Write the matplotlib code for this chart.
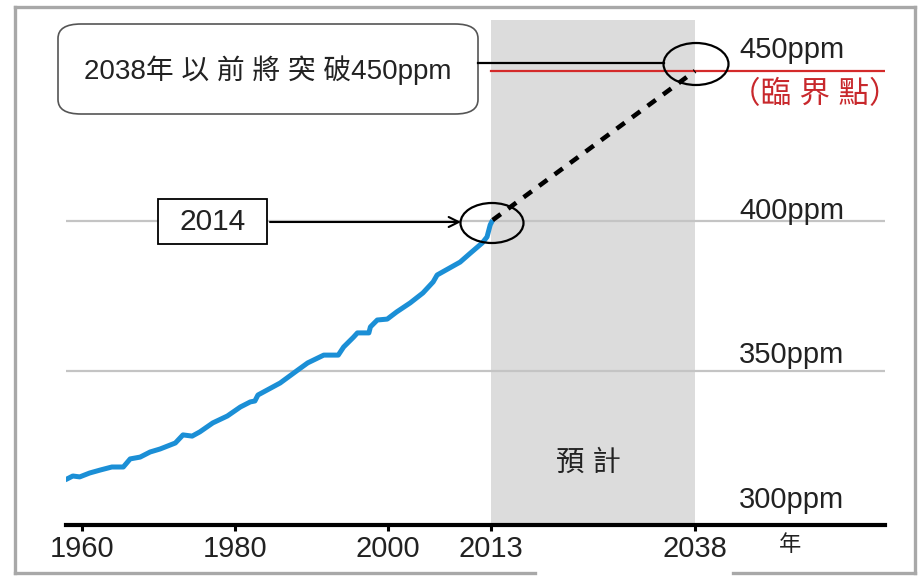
import matplotlib
matplotlib.use("Agg")
import matplotlib.pyplot as plt
import numpy as np
from matplotlib.patches import Ellipse, Rectangle, FancyBboxPatch
from matplotlib.lines import Line2D

plt.rcParams['font.family'] = ['Liberation Sans', 'Noto Sans CJK TC', 'DejaVu Sans']

# 大氣二氧化碳濃度 (ppm)
co2_years = [1957.8, 1958.8, 1959.7, 1961.0, 1962.4, 1963.9, 1965.4, 1966.3, 1967.6,
             1968.9, 1970.2, 1972.2, 1973.2, 1974.4, 1975.4, 1977.1, 1979.0, 1980.7,
             1982.0, 1982.6, 1983.0, 1985.9, 1988.2, 1989.5, 1991.6, 1993.5, 1994.2,
             1995.5, 1996.0, 1997.5, 1997.7, 1998.6, 1999.9, 2001.1, 2002.8, 2004.4,
             2005.7, 2006.2, 2009.1, 2010.4, 2011.9, 2012.5, 2012.9, 2013.2]
co2_ppm = [313.7, 315.0, 314.7, 316.0, 317.0, 318.0, 318.0, 320.7, 321.3,
           323.0, 324.0, 326.0, 328.7, 328.3, 329.7, 332.7, 335.0, 338.0,
           339.7, 340.0, 342.0, 346.0, 350.3, 352.7, 355.3, 355.3, 358.0,
           361.3, 362.7, 362.7, 364.7, 367.0, 367.3, 369.7, 372.7, 376.0,
           379.7, 382.0, 386.3, 389.3, 392.7, 394.7, 398.7, 400.3]

# 預測
proj_years = [2013.2, 2038]
proj_ppm = [400.3, 450]

forecast_span = (2013, 2038)
threshold = 450
grid_levels = [400, 350]
level_names = ['450ppm', '400ppm', '350ppm', '300ppm']
level_text_y = [454.3, 400.7, 352.7, 304.3]
xtick_years = [1960, 1980, 2000, 2013, 2038]
xtick_labels = ['1960', '1980', '2000', '2013', '2038']

W, H = 919, 576

# 年份軸刻度間距不等，用分段線性刻度
YEAR_KNOTS = [1900, 1960, 1980, 2000, 2013, 2038, 2100]
PX_KNOTS = [-377, 82, 235, 388, 491, 695, 1201]


def forward(x):
    return np.interp(x, YEAR_KNOTS, PX_KNOTS)


def inverse(p):
    return np.interp(p, PX_KNOTS, YEAR_KNOTS)


def fx(px):
    return px / W


def fy(py):
    return 1 - py / H


fig = plt.figure(figsize=(W / 100, H / 100), dpi=100)
ax = fig.add_axes([fx(66), fy(525), (885 - 66) / W, (525 - 20) / H])
ax.set_xscale('function', functions=(forward, inverse))
ax.set_xlim(inverse(66), inverse(885))
ax.set_ylim(400 - 304 / 3, 400 + 201 / 3)

ax.axvspan(*forecast_span, color='#dcdcdc', lw=0, zorder=0)
for lv in grid_levels:
    ax.axhline(lv, color='#c4c4c4', lw=1.6, zorder=1)
ax.plot([forecast_span[0], ax.get_xlim()[1]], [threshold, threshold],
        color='#d42a2a', lw=1.6, zorder=2)

ax.plot(co2_years, co2_ppm, color='#1b8fd6', lw=3.6, solid_capstyle='butt', zorder=3)
ax.plot(proj_years, proj_ppm, color='black', lw=3.3, linestyle=(0, (2.2, 2.0)), zorder=3)

for sp in ['left', 'right', 'top']:
    ax.spines[sp].set_visible(False)
ax.spines['bottom'].set_linewidth(3.0)
ax.set_yticks([])
ax.set_xticks(xtick_years)
ax.set_xticklabels(xtick_labels, fontsize=21)
ax.tick_params(axis='x', direction='out', length=4.5, width=2.2, pad=3, colors='black')
ax.tick_params(axis='x', labelcolor='#222222')

# 右側濃度標籤
lx = inverse(739)
for name, y in zip(level_names, level_text_y):
    ax.text(lx, y, name, fontsize=21, color='#222222', va='baseline', ha='left')
ax.text(inverse(815), threshold - 8.0, '（臨 界 點）', fontsize=22, color='#c8282c',
        ha='center', va='center')
ax.text(inverse(588), 319, '預 計', fontsize=20.5, color='#222222', ha='center', va='center')
ax.text(inverse(790), 292, '年', fontsize=16, color='#222222', ha='center', va='center',
        clip_on=False)

# 說明框
fig.add_artist(FancyBboxPatch((fx(58), fy(114)), (478 - 58) / W, (114 - 24) / H,
                              boxstyle='round,pad=0,rounding_size=0.025',
                              transform=fig.transFigure, fc='white', ec='#555555', lw=1.2))
fig.text(fx(268), fy(70), '2038年 以 前 將 突 破450ppm', fontsize=20, color='#222222',
         ha='center', va='center')
fig.add_artist(Line2D([fx(478), fx(664)], [fy(63), fy(63)], color='black', lw=1.6,
                      transform=fig.transFigure))
fig.add_artist(Ellipse((fx(696), fy(64)), 65 / W, 42 / H, transform=fig.transFigure,
                       fc='none', ec='black', lw=1.6))

fig.add_artist(Rectangle((fx(158), fy(244)), (267 - 158) / W, (244 - 199) / H,
                         transform=fig.transFigure, fc='white', ec='black', lw=1.3))
fig.text(fx(213), fy(222), '2014', fontsize=21.5, color='#222222', ha='center', va='center')
ax.annotate('', xy=(fx(461), fy(222)), xytext=(fx(270), fy(222)),
            xycoords='figure fraction', textcoords='figure fraction',
            arrowprops=dict(arrowstyle='->', color='black', lw=1.5, mutation_scale=18,
                            shrinkA=0, shrinkB=0))
fig.add_artist(Ellipse((fx(492), fy(223)), 63 / W, 40 / H, transform=fig.transFigure,
                       fc='none', ec='black', lw=1.6))

# 外框
frame = dict(color='#a8a8a8', lw=2.4, transform=fig.transFigure, solid_capstyle='projecting')
fig.add_artist(Line2D([fx(15), fx(915)], [fy(7), fy(7)], **frame))
fig.add_artist(Line2D([fx(15), fx(15)], [fy(7), fy(573)], **frame))
fig.add_artist(Line2D([fx(915), fx(915)], [fy(7), fy(573)], **frame))
fig.add_artist(Line2D([fx(15), fx(535)], [fy(573), fy(573)], **frame))
fig.add_artist(Line2D([fx(733), fx(915)], [fy(573), fy(573)], **frame))

fig.savefig('out.png', dpi=100)
